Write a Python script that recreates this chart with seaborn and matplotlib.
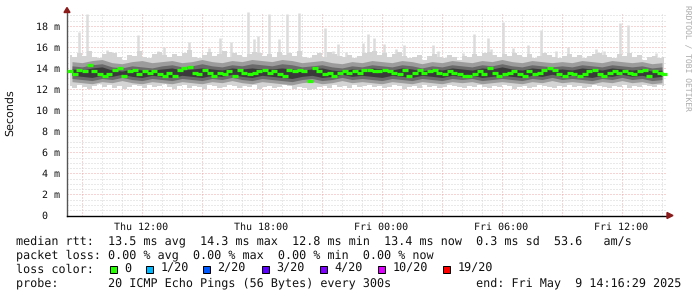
import numpy as np
import pandas as pd
import matplotlib
matplotlib.use("Agg")
import matplotlib.pyplot as plt
import matplotlib.dates as mdates
from matplotlib.patches import Rectangle, Polygon
import seaborn as sns

# ---------------- data ----------------
start = "2025-05-08 08:16:29"
end = "2025-05-09 14:16:29"

# median RTT (ms), one value per 15 minutes
median_rtt = [
    13.7, 13.4, 13.8, 13.7, 14.3, 13.7, 13.4, 13.2, 13.4, 13.8, 14.0, 13.2, 13.7, 13.8, 13.4, 13.7, 13.5, 13.7, 13.4, 13.2,
    13.5, 13.2, 13.8, 14.0, 14.1, 13.5, 13.4, 13.8, 13.5, 13.2, 13.5, 13.4, 13.7, 13.2, 13.8, 13.5, 13.4, 13.5, 13.7, 13.8,
    13.5, 13.7, 13.4, 13.2, 13.8, 13.7, 13.8, 13.7, 12.8, 14.0, 13.7, 13.4, 13.5, 13.2, 13.5, 13.7, 13.5, 13.7, 13.5, 13.8,
    13.8, 13.7, 13.7, 13.8, 13.7, 13.5, 13.4, 13.8, 13.2, 13.5, 13.8, 13.5, 13.7, 13.8, 13.5, 13.4, 13.7, 13.5, 13.4, 13.2,
    13.2, 13.4, 13.7, 13.4, 14.0, 13.5, 13.2, 13.4, 13.5, 13.7, 13.4, 13.2, 13.7, 13.4, 13.5, 13.8, 14.0, 13.8, 13.4, 13.2,
    13.5, 13.4, 13.2, 13.4, 13.7, 13.8, 13.4, 13.2, 13.5, 13.7, 13.5, 13.7, 13.5, 13.4, 13.7, 13.8, 13.2, 13.7, 13.5, 13.4,
]

# outer smoke envelope (highest / lowest ping), per 15 minutes
ping_max = [
    15.2, 15.0, 15.4, 15.1, 15.6, 15.0, 14.9, 15.3, 15.5, 15.4, 15.0, 14.8, 15.2, 15.1, 15.6, 15.0, 14.9, 15.3, 15.5, 15.2,
    15.0, 15.3, 15.1, 15.4, 15.7, 15.0, 14.9, 15.2, 15.5, 15.1, 15.3, 15.6, 15.0, 15.4, 15.2, 15.0, 15.3, 15.5, 15.4, 15.1,
    15.3, 15.0, 15.5, 15.2, 15.4, 15.1, 15.6, 15.0, 14.9, 15.2, 15.4, 15.0, 15.5, 15.3, 15.1, 15.0, 15.2, 14.9, 15.1, 15.4,
    15.5, 15.6, 15.2, 15.4, 15.0, 15.3, 15.5, 15.1, 14.9, 15.0, 15.2, 14.8, 15.1, 15.3, 15.0, 14.9, 15.2, 15.0, 14.8, 15.1,
    15.0, 15.3, 15.1, 15.4, 15.5, 15.2, 15.0, 15.3, 15.1, 15.4, 15.2, 15.0, 15.3, 14.9, 15.1, 15.4, 15.2, 15.0, 14.9, 15.1,
    15.3, 15.0, 15.2, 14.9, 15.1, 15.3, 15.4, 15.2, 15.0, 14.9, 15.3, 15.1, 15.4, 15.0, 15.2, 14.8, 15.0, 15.1, 14.9, 15.0,
]
ping_min = [
    12.3, 12.1, 12.4, 12.2, 12.0, 12.3, 12.5, 12.2, 12.4, 12.1, 12.3, 12.0, 12.2, 12.4, 12.3, 12.1, 12.4, 12.2, 12.3, 12.5,
    12.2, 12.0, 12.3, 12.4, 12.1, 12.3, 12.2, 12.0, 12.4, 12.3, 12.1, 12.2, 12.4, 12.3, 12.1, 12.3, 12.2, 12.4, 12.0, 12.2,
    12.3, 12.1, 12.2, 12.4, 12.3, 12.0, 12.2, 12.1, 11.9, 12.0, 12.2, 12.3, 12.1, 12.4, 12.2, 12.3, 12.1, 12.4, 12.2, 12.3,
    12.4, 12.2, 12.3, 12.1, 12.2, 12.4, 12.3, 12.0, 12.2, 12.3, 12.1, 12.4, 12.2, 12.3, 12.1, 12.2, 12.4, 12.3, 12.2, 12.1,
    12.3, 12.2, 12.4, 12.2, 12.1, 12.3, 12.2, 12.4, 12.3, 12.0, 12.2, 12.3, 12.1, 12.2, 12.4, 12.3, 12.2, 12.1, 12.3, 12.2,
    12.4, 12.2, 12.3, 12.1, 12.2, 12.4, 12.3, 12.2, 12.1, 12.3, 12.2, 12.4, 12.1, 12.3, 12.2, 12.4, 12.3, 12.2, 12.4, 12.3,
]

# inner smoke bands, per 30 minutes
mid_hi = [
    14.6, 14.5, 14.7, 14.8, 14.5, 14.4, 14.6, 14.7, 14.5, 14.6, 14.7, 14.5, 14.6, 14.8, 14.6, 14.5, 14.7, 14.6, 14.8, 14.7,
    14.6, 14.8, 14.7, 14.5, 14.6, 14.7, 14.5, 14.4, 14.6, 14.5, 14.7, 14.6, 14.5, 14.7, 14.6, 14.4, 14.6, 14.5, 14.7, 14.6,
    14.5, 14.7, 14.6, 14.8, 14.6, 14.5, 14.7, 14.6, 14.5, 14.6, 14.5, 14.7, 14.6, 14.5, 14.7, 14.6, 14.5, 14.6, 14.4, 14.5,
]
mid_lo = [
    12.7, 12.6, 12.5, 12.7, 12.6, 12.8, 12.6, 12.5, 12.7, 12.6, 12.5, 12.7, 12.6, 12.5, 12.7, 12.6, 12.8, 12.6, 12.5, 12.7,
    12.6, 12.5, 12.4, 12.6, 12.7, 12.5, 12.6, 12.8, 12.6, 12.7, 12.6, 12.5, 12.7, 12.6, 12.5, 12.7, 12.6, 12.5, 12.7, 12.6,
    12.7, 12.5, 12.6, 12.7, 12.6, 12.5, 12.7, 12.6, 12.8, 12.6, 12.7, 12.6, 12.5, 12.7, 12.6, 12.8, 12.6, 12.7, 12.5, 12.6,
]
inner_hi = [
    14.2, 14.1, 14.3, 14.4, 14.1, 14.0, 14.2, 14.1, 14.0, 14.2, 14.3, 14.1, 14.2, 14.4, 14.2, 14.1, 14.3, 14.2, 14.4, 14.3,
    14.2, 14.4, 14.3, 14.1, 14.2, 14.3, 14.1, 14.0, 14.2, 14.1, 14.3, 14.2, 14.1, 14.3, 14.2, 14.0, 14.2, 14.1, 14.3, 14.2,
    14.1, 14.3, 14.2, 14.4, 14.2, 14.1, 14.3, 14.2, 14.1, 14.2, 14.1, 14.3, 14.2, 14.1, 14.3, 14.2, 14.1, 14.2, 14.0, 14.1,
]
inner_lo = [
    13.0, 12.9, 12.8, 13.0, 12.9, 13.1, 12.9, 12.8, 13.0, 12.9, 12.8, 13.0, 12.9, 12.8, 13.0, 12.9, 13.1, 12.9, 12.8, 13.0,
    12.9, 12.8, 12.7, 12.9, 13.0, 12.8, 12.9, 13.1, 12.9, 13.0, 12.9, 12.8, 13.0, 12.9, 12.8, 13.0, 12.9, 12.8, 13.0, 12.9,
    13.0, 12.8, 12.9, 13.0, 12.9, 12.8, 13.0, 12.9, 13.1, 12.9, 13.0, 12.9, 12.8, 13.0, 12.9, 13.1, 12.9, 13.0, 12.8, 12.9,
]
core_hi = [
    13.9, 13.8, 14.0, 14.1, 13.8, 13.7, 13.9, 13.8, 13.8, 13.9, 14.0, 13.8, 13.9, 14.0, 13.9, 13.8, 14.0, 13.9, 14.0, 13.9,
    13.9, 14.0, 13.9, 13.8, 13.9, 14.0, 13.8, 13.7, 13.9, 13.8, 14.0, 13.9, 13.8, 14.0, 13.9, 13.7, 13.9, 13.8, 14.0, 13.9,
    13.8, 14.0, 13.9, 14.1, 13.9, 13.8, 14.0, 13.9, 13.8, 13.9, 13.8, 14.0, 13.9, 13.8, 14.0, 13.9, 13.8, 13.9, 13.7, 13.8,
]
core_lo = [
    13.3, 13.2, 13.1, 13.3, 13.2, 13.4, 13.2, 13.1, 13.3, 13.2, 13.1, 13.3, 13.2, 13.1, 13.3, 13.2, 13.4, 13.2, 13.1, 13.3,
    13.2, 13.1, 13.0, 13.2, 13.3, 13.1, 13.2, 13.4, 13.2, 13.3, 13.2, 13.1, 13.3, 13.2, 13.1, 13.3, 13.2, 13.1, 13.3, 13.2,
    13.3, 13.1, 13.2, 13.3, 13.2, 13.1, 13.3, 13.2, 13.4, 13.2, 13.3, 13.2, 13.1, 13.3, 13.2, 13.4, 13.2, 13.3, 13.1, 13.2,
]

# isolated slow pings (time, value in ms)
spike_times = [
    "2025-05-08 08:52", "2025-05-08 09:16", "2025-05-08 10:16", "2025-05-08 10:28", "2025-05-08 11:49",
    "2025-05-08 12:49", "2025-05-08 13:07", "2025-05-08 14:22", "2025-05-08 15:22", "2025-05-08 15:55",
    "2025-05-08 16:28", "2025-05-08 17:19", "2025-05-08 17:37", "2025-05-08 17:49", "2025-05-08 18:22",
    "2025-05-08 18:52", "2025-05-08 19:16", "2025-05-08 19:52", "2025-05-08 21:10", "2025-05-08 21:34",
    "2025-05-08 21:49", "2025-05-08 22:13", "2025-05-08 23:04", "2025-05-08 23:19", "2025-05-08 23:37",
    "2025-05-09 00:07", "2025-05-09 00:43", "2025-05-09 01:07", "2025-05-09 02:34", "2025-05-09 02:49",
    "2025-05-09 04:04", "2025-05-09 04:37", "2025-05-09 05:19", "2025-05-09 05:28", "2025-05-09 06:04",
    "2025-05-09 06:34", "2025-05-09 07:19", "2025-05-09 07:58", "2025-05-09 08:43", "2025-05-09 09:19",
    "2025-05-09 10:43", "2025-05-09 11:07", "2025-05-09 11:55", "2025-05-09 12:19", "2025-05-09 13:43",
]
spike_values = [
    17.4, 19.1, 15.7, 15.5, 17.1,
    15.6, 16.0, 16.5, 15.9, 16.8,
    16.5, 19.3, 16.7, 17.0, 19.1,
    16.7, 19.1, 19.2, 17.8, 15.6,
    16.3, 15.5, 16.4, 17.2, 16.8,
    16.3, 15.8, 16.2, 16.2, 15.6,
    15.4, 17.2, 16.8, 15.8, 18.4,
    15.9, 16.2, 17.6, 15.6, 16.0,
    15.8, 15.6, 18.3, 18.1, 15.4,
]

y_ticks = [0, 2, 4, 6, 8, 10, 12, 14, 16, 18]
y_tick_labels = ["0\u00a0\u00a0", "2 m", "4 m", "6 m", "8 m", "10 m", "12 m", "14 m", "16 m", "18 m"]

loss_labels = ["0", "1/20", "2/20", "3/20", "4/20", "10/20", "19/20"]
loss_colors = ["#26ff00", "#00b8ff", "#0059ff", "#5e00ff", "#7e00ff", "#dd00ff", "#ff0000"]

line_rtt = "median rtt:  13.5 ms avg  14.3 ms max  12.8 ms min  13.4 ms now  0.3 ms sd  53.6   am/s"
line_loss = "packet loss: 0.00 % avg  0.00 % max  0.00 % min  0.00 % now"
line_probe = "probe:       20 ICMP Echo Pings (56 Bytes) every 300s            end: Fri May  9 14:16:29 2025"

# ---------------- drawing ----------------
sns.set_style("white")
plt.rcParams['font.family'] = ['DejaVu Sans Mono', 'DejaVu Sans']
plt.rcParams['text.hinting'] = 'no_hinting'

W, H = 697, 297
fig = plt.figure(figsize=(W / 100, H / 100), dpi=100)
fig.patch.set_facecolor("white")

def px(x, y):
    return x / W, 1 - y / H

ax_left, ax_right, ax_bottom, ax_top = 67, 667, 215.5, 12
ax = fig.add_axes([ax_left / W, 1 - ax_bottom / H, (ax_right - ax_left) / W, (ax_bottom - ax_top) / H])
ax.set_facecolor("white")

t0, t1 = pd.Timestamp(start), pd.Timestamp(end)
t15 = pd.date_range(t0 + pd.Timedelta(minutes=7.5), periods=len(median_rtt), freq="15min")
t30 = pd.date_range(t0 + pd.Timedelta(minutes=15), periods=len(mid_hi), freq="30min")
spk = pd.to_datetime(spike_times)

# spikes
ax.vlines(spk, 14.0, spike_values, color="#dcdcdc", linewidth=1.8, zorder=2)

# smoke
ax.fill_between(t15, ping_min, ping_max, step="mid", color="#d4d4d4", linewidth=0, zorder=3)
ax.fill_between(t30, mid_lo, mid_hi, color="#9c9c9c", linewidth=0, zorder=4)
ax.fill_between(t30, inner_lo, inner_hi, color="#6a6a6a", linewidth=0, zorder=5)
ax.fill_between(t30, core_lo, core_hi, color="#3a3a3a", linewidth=0, zorder=6)

# median
df = pd.DataFrame({"time": t15, "median": median_rtt})
sns.scatterplot(data=df, x="time", y="median", marker="_", s=14, linewidth=2.3,
                color="#26ff00", ax=ax, zorder=7, legend=False)

ax.set_xlim(t0, t1)
ax.set_ylim(0, (ax_bottom - ax_top) / 10.54)

# grid
ax.set_yticks(y_ticks)
ax.set_yticklabels(y_tick_labels)
ax.set_yticks(np.arange(0, 19.5, 0.5), minor=True)
ax.xaxis.set_major_locator(mdates.HourLocator(byhour=range(0, 24, 3)))
ax.xaxis.set_minor_locator(mdates.HourLocator())

def fmt(x, pos):
    d = mdates.num2date(x)
    return d.strftime("%a %H:%M") if d.hour % 6 == 0 else ""

ax.xaxis.set_major_formatter(plt.FuncFormatter(fmt))
ax.grid(which="minor", color="#d4d4d4", linestyle=(0, (1, 2)), linewidth=0.72, zorder=0)
ax.grid(which="major", color="#eeaaaa", linestyle=(0, (1, 2)), linewidth=0.72, zorder=1)
ax.set_axisbelow(True)

ax.tick_params(axis="y", which="major", length=3.6, width=0.72, color="#444444", pad=1.5,
               labelsize=7.2, labelcolor="#111111")
ax.tick_params(axis="y", which="minor", length=0)
ax.tick_params(axis="x", which="major", length=2, width=0.72, color="#444444", pad=2.5,
               labelsize=7.2, labelcolor="#111111")
ax.tick_params(axis="x", which="minor", length=0)
ax.set_xlabel("")
ax.set_ylabel("")

for s in ["top", "right"]:
    ax.spines[s].set_visible(False)
ax.spines["left"].set_color("#555555")
ax.spines["left"].set_linewidth(1.0)
ax.spines["bottom"].set_color("#000000")
ax.spines["bottom"].set_linewidth(1.0)

# arrows
arrow_col = "#8b1a1a"
fig.patches.append(Polygon([px(64, 12.5), px(67, 7.5), px(70, 12.5)], closed=True,
                           transform=fig.transFigure, color=arrow_col, zorder=10))
fig.patches.append(Polygon([px(667, 212.5), px(673, 215.5), px(667, 218.5)], closed=True,
                           transform=fig.transFigure, color=arrow_col, zorder=10))

# y label and watermark
fig.text(*px(10, 113), "Seconds", rotation=90, ha="center", va="center",
         fontsize=8, family="DejaVu Sans", color="#111111")
fig.text(*px(687, 5), "RRDTOOL / TOBI OETIKER", rotation=270, ha="center", va="top",
         fontsize=5.8, color="#aaaaaa")

# legend lines
fs = 8.47
fig.text(*px(16, 241), line_rtt, ha="left", va="center", fontsize=fs, color="#111111")
fig.text(*px(16, 255), line_loss, ha="left", va="center", fontsize=fs, color="#111111")
fig.text(*px(16, 269), "loss color:", ha="left", va="center", fontsize=fs, color="#111111")
fig.text(*px(16, 283), line_probe, ha="left", va="center", fontsize=fs, color="#111111")

sq_x = [110, 146, 203, 262, 320, 378, 443]
for xs, lab, col in zip(sq_x, loss_labels, loss_colors):
    fig.patches.append(Rectangle(px(xs, 273), 7 / W, 7 / H, transform=fig.transFigure,
                                 facecolor=col, edgecolor="black", linewidth=0.72, zorder=10))
    fig.text(*px(xs + 14.5, 269), lab, ha="left", va="center", fontsize=fs, color="#111111")

fig.savefig("out.png", dpi=100, facecolor="white")
